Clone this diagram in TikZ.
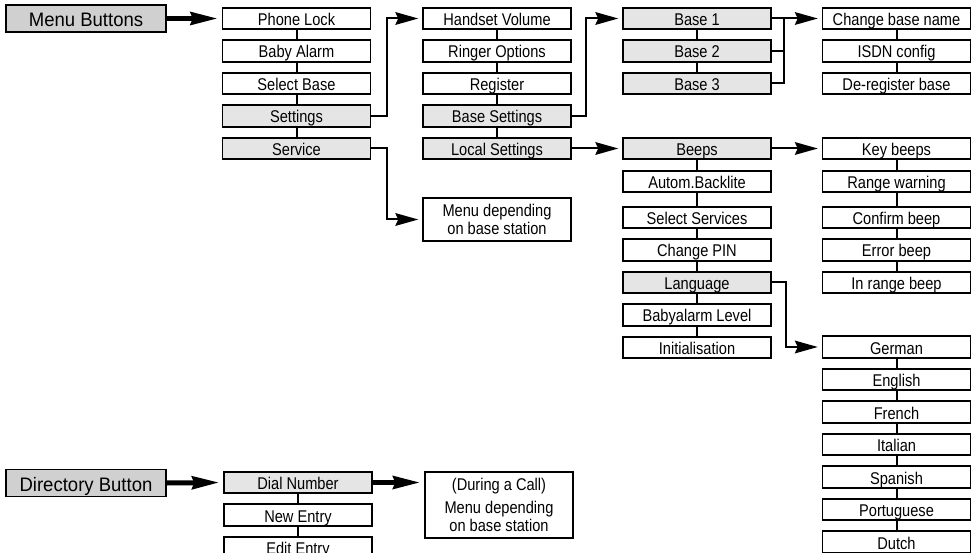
\documentclass[tikz,border=0pt]{standalone}
\usepackage{fontspec}
\newfontfamily\itemfont[FakeStretch=0.86]{Liberation Sans}
\newfontfamily\headfont[FakeStretch=0.95]{Liberation Sans}
\usetikzlibrary{arrows.meta}
\definecolor{g230}{gray}{0.9}
\definecolor{g208}{gray}{0.815}
\tikzset{
  boxbase/.style={draw, line width=1.6pt, minimum width=148pt, inner sep=0pt,
    font=\itemfont\fontsize{17}{18}\selectfont},
  item/.style={boxbase, minimum height=21.5pt, text height=14pt, text depth=0pt},
  shaded/.style={item, fill=g230},
  note/.style={boxbase, align=center},
  headbox/.style={draw, line width=1.8pt, fill=g208, minimum width=160pt,
    minimum height=27pt, inner sep=0pt, text height=16pt, text depth=0pt,
    font=\headfont\fontsize{19.5}{21}\selectfont},
  link/.style={line width=2pt},
  thinarrow/.style={line width=2pt, shorten >=4pt,
    -{Stealth[length=23pt,width=13pt,inset=3pt,line width=0pt]}},
  thickarrow/.style={line width=5pt, shorten >=5pt,
    -{Stealth[length=27pt,width=14pt,inset=3pt,line width=0pt]}}
}
\begin{document}
\begin{tikzpicture}[x=1pt,y=-1pt]
\useasboundingbox (0,0) rectangle (980,553);
\clip (0,0) rectangle (980,553);

% Menu button and its first level
\node[headbox] (menu) at (86,18.5) {Menu Buttons};
\node[item] (phonelock) at (296.5,18.5) {Phone Lock};
\node[item] (babyalarm) at (296.5,51) {Baby Alarm};
\node[item] (selectbase) at (296.5,83.5) {Select Base};
\node[shaded] (settings) at (296.5,116) {Settings};
\node[shaded] (service) at (296.5,148.5) {Service};
\draw[link] (phonelock.south) -- (babyalarm.north);
\draw[link] (babyalarm.south) -- (selectbase.north);
\draw[link] (selectbase.south) -- (settings.north);
\draw[link] (settings.south) -- (service.north);
\draw[thickarrow] (menu.east) -- (phonelock.west);

% Settings menu
\node[item] (handset) at (497,18.5) {Handset Volume};
\node[item] (ringer) at (497,51) {Ringer Options};
\node[item] (register) at (497,83.5) {Register};
\node[shaded] (basesettings) at (497,116) {Base Settings};
\node[shaded] (localsettings) at (497,148.5) {Local Settings};
\draw[link] (handset.south) -- (ringer.north);
\draw[link] (ringer.south) -- (register.north);
\draw[link] (register.south) -- (basesettings.north);
\draw[link] (basesettings.south) -- (localsettings.north);
\draw[thinarrow] (settings.east) -- ++(16,0) |- (handset.west);

% Service menu
\node[note, minimum height=43pt] (servicemenu) at (497,219.5) {Menu depending\\on base station};
\draw[thinarrow] (service.east) -- ++(16,0) |- (servicemenu.west);

% Base settings
\node[shaded] (base1) at (697,18.5) {Base 1};
\node[shaded] (base2) at (697,51) {Base 2};
\node[shaded] (base3) at (697,83.5) {Base 3};
\draw[link] (base1.south) -- (base2.north);
\draw[link] (base2.south) -- (base3.north);
\draw[thinarrow] (basesettings.east) -- ++(14,0) |- (base1.west);

% Per base menu
\node[item] (basename) at (896.5,18.5) {Change base name};
\node[item] (isdn) at (896.5,51) {ISDN config};
\node[item] (deregister) at (896.5,83.5) {De-register base};
\draw[link] (basename.south) -- (isdn.north);
\draw[link] (isdn.south) -- (deregister.north);
\draw[link] (base3.east) -- ++(12,0) coordinate (basejoin) -- (basejoin |- base1.east);
\draw[link] (base2.east) -- (basejoin |- base2.east);
\draw[thinarrow] (base1.east) -- (basename.west);

% Local settings
\node[shaded] (beeps) at (697,148.5) {Beeps};
\node[item] (backlite) at (697,181.5) {Autom.Backlite};
\node[item] (selectservices) at (697,217.5) {Select Services};
\node[item] (changepin) at (697,250) {Change PIN};
\node[shaded] (language) at (697,282.5) {Language};
\node[item] (babylevel) at (697,315) {Babyalarm Level};
\node[item] (initialisation) at (697,347.5) {Initialisation};
\draw[link] (beeps.south) -- (backlite.north);
\draw[link] (backlite.south) -- (selectservices.north);
\draw[link] (selectservices.south) -- (changepin.north);
\draw[link] (changepin.south) -- (language.north);
\draw[link] (language.south) -- (babylevel.north);
\draw[link] (babylevel.south) -- (initialisation.north);
\draw[thinarrow] (localsettings.east) -- (beeps.west);

% Beeps
\node[item] (keybeeps) at (896.5,148.5) {Key beeps};
\node[item] (rangewarning) at (896.5,181.5) {Range warning};
\node[item] (confirmbeep) at (896.5,217.5) {Confirm beep};
\node[item] (errorbeep) at (896.5,250) {Error beep};
\node[item] (inrangebeep) at (896.5,282.5) {In range beep};
\draw[link] (keybeeps.south) -- (rangewarning.north);
\draw[link] (rangewarning.south) -- (confirmbeep.north);
\draw[link] (confirmbeep.south) -- (errorbeep.north);
\draw[link] (errorbeep.south) -- (inrangebeep.north);
\draw[thinarrow] (beeps.east) -- (keybeeps.west);

% Languages
\node[item] (german) at (896.5,347) {German};
\node[item] (english) at (896.5,379.5) {English};
\node[item] (french) at (896.5,412) {French};
\node[item] (italian) at (896.5,444.5) {Italian};
\node[item] (spanish) at (896.5,477) {Spanish};
\node[item] (portuguese) at (896.5,509.5) {Portuguese};
\node[item] (dutch) at (896.5,542) {Dutch};
\draw[link] (german.south) -- (english.north);
\draw[link] (english.south) -- (french.north);
\draw[link] (french.south) -- (italian.north);
\draw[link] (italian.south) -- (spanish.north);
\draw[link] (spanish.south) -- (portuguese.north);
\draw[link] (portuguese.south) -- (dutch.north);
\draw[thinarrow] (language.east) -- ++(14,0) |- (german.west);

% Directory button
\node[headbox] (directory) at (86,483) {Directory Button};
\node[shaded] (dial) at (298,482.5) {Dial Number};
\node[item] (newentry) at (298,515) {New Entry};
\node[item] (editentry) at (298,547.5) {Edit Entry};
\draw[link] (dial.south) -- (newentry.north);
\draw[link] (newentry.south) -- (editentry.north);
\draw[thickarrow] (directory.east) -- (dial.west);

% During a call
\node[note, minimum height=66pt] (duringcall) at (499,505) {(During a Call)\\[5pt]Menu depending\\on base station};
\draw[thickarrow] (dial.east) -- (dial.east -| duringcall.west);
\end{tikzpicture}
\end{document}
